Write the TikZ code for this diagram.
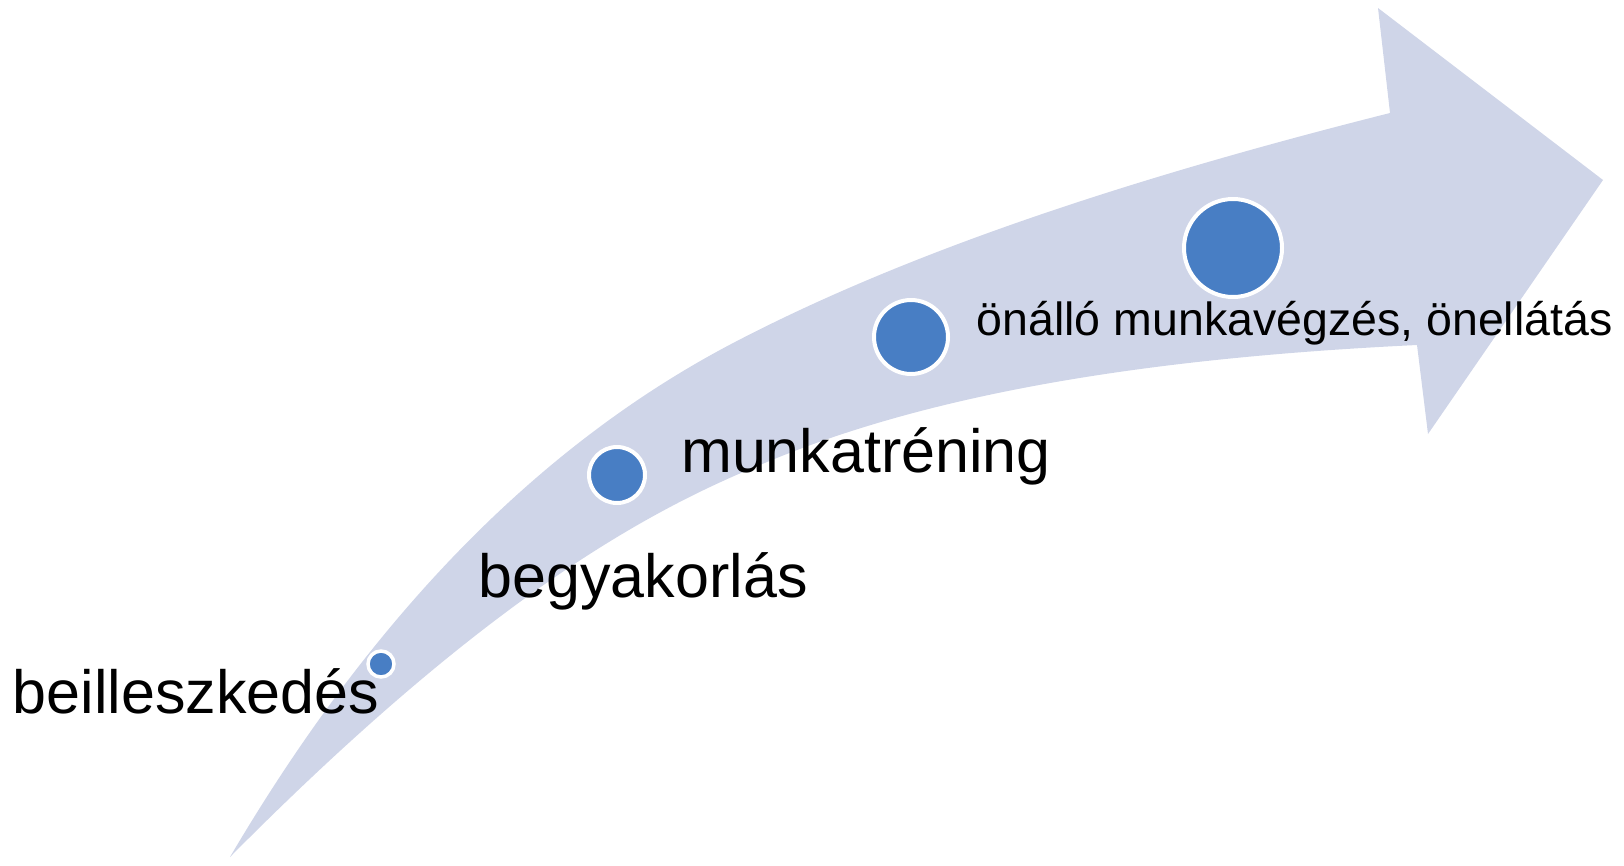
\documentclass[tikz,border=0pt]{standalone}
\usepackage{fontspec}
\setmainfont{Liberation Sans}
\definecolor{arrowfill}{RGB}{207,213,232}
\definecolor{dotblue}{RGB}{72,126,196}
\begin{document}
\begin{tikzpicture}[x=1pt,y=-1pt,
  dot/.style={circle,fill=dotblue,draw=white,line width=4pt,inner sep=0pt},
  big/.style={anchor=base west,inner sep=0pt,font=\fontsize{61}{70}\selectfont},
  small/.style={anchor=base west,inner sep=0pt,font=\fontsize{46.5}{54}\selectfont}]
\useasboundingbox (0,0) rectangle (1624,865);
% curved arrow
\fill[arrowfill] (230,857)
  .. controls (373,614) and (541,443) .. (735,342)
  .. controls (906,253) and (1124,180) .. (1390,113)
  -- (1378,8) -- (1603,180) -- (1428,434) -- (1417,345)
  .. controls (1145,358) and (926,394) .. (760,465)
  .. controls (640,514) and (480,605) .. (230,857)
  -- cycle;
% dots
\node[dot,minimum size=26pt,line width=3.5pt] (d1) at (381,664) {};
\node[dot,minimum size=56pt] (d2) at (617,475) {};
\node[dot,minimum size=74pt] (d3) at (911,337) {};
\node[dot,minimum size=98pt] (d4) at (1233,248) {};
% labels
\node[big] (t1) at (12.5,713) {beilleszkedés};
\node[big] (t2) at (478.5,597) {begyakorlás};
\node[big] (t3) at (681,472) {munkatréning};
\node[small] (t4) at (976.5,335) {önálló munkavégzés, önellátás};
\end{tikzpicture}
\end{document}
